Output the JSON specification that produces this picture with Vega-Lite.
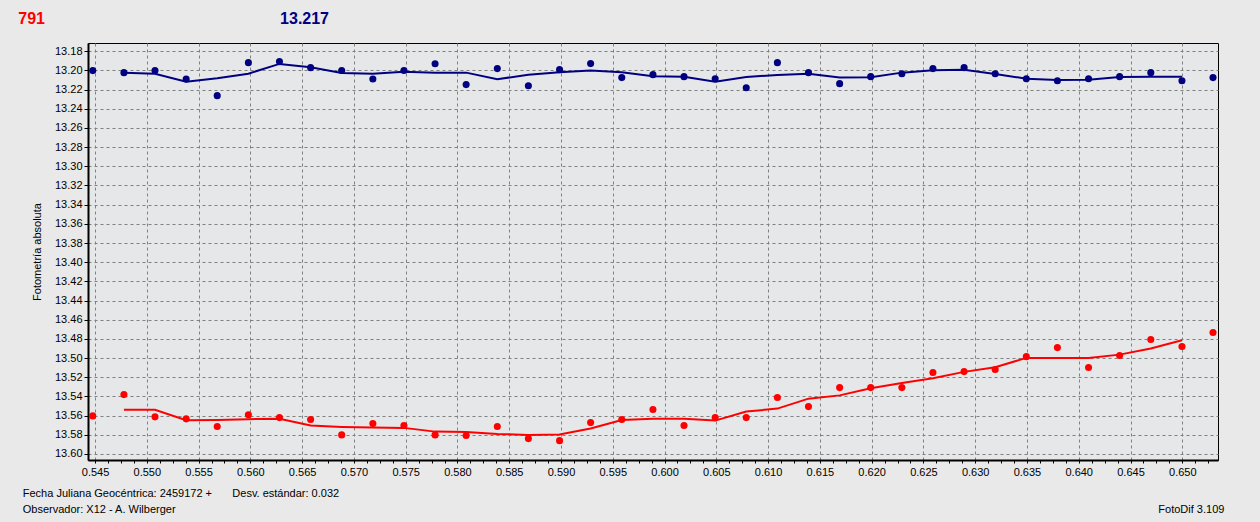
{
  "$schema": "https://vega.github.io/schema/vega-lite/v6.json",
  "width": 1130,
  "height": 417,
  "autosize": {"type": "none"},
  "padding": {"left": 88, "top": 43, "right": 42, "bottom": 62},
  "background": "#e9e9e9",
  "config": {
    "view": {"fill": "#e6e7e9", "stroke": "#000000", "strokeWidth": 1},
    "font": "Liberation Sans",
    "axis": {
      "domainColor": "#000000",
      "domainWidth": 2,
      "tickColor": "#000000",
      "tickSize": 4,
      "labelFont": "Liberation Sans",
      "labelFontSize": 11,
      "labelColor": "#000000",
      "labelPadding": 2,
      "gridColor": "#808080",
      "gridDash": [3, 3],
      "gridWidth": 1,
      "titleFont": "Liberation Sans",
      "titleFontSize": 11,
      "titleFontWeight": "normal",
      "titleColor": "#000000"
    }
  },
  "datasets": {
    "phot": [
      {"series": "comp", "jd": 0.54478, "mag": 13.2002, "fit": null},
      {"series": "comp", "jd": 0.54779, "mag": 13.2023, "fit": 13.2023},
      {"series": "comp", "jd": 0.55079, "mag": 13.2000, "fit": 13.2034},
      {"series": "comp", "jd": 0.55380, "mag": 13.2089, "fit": 13.2117},
      {"series": "comp", "jd": 0.55680, "mag": 13.2263, "fit": 13.2082},
      {"series": "comp", "jd": 0.55981, "mag": 13.1919, "fit": 13.2034},
      {"series": "comp", "jd": 0.56281, "mag": 13.1908, "fit": 13.1932},
      {"series": "comp", "jd": 0.56582, "mag": 13.1971, "fit": 13.1967},
      {"series": "comp", "jd": 0.56882, "mag": 13.2000, "fit": 13.2026},
      {"series": "comp", "jd": 0.57183, "mag": 13.2090, "fit": 13.2034},
      {"series": "comp", "jd": 0.57483, "mag": 13.2000, "fit": 13.2013},
      {"series": "comp", "jd": 0.57784, "mag": 13.1930, "fit": 13.2023},
      {"series": "comp", "jd": 0.58084, "mag": 13.2148, "fit": 13.2023},
      {"series": "comp", "jd": 0.58385, "mag": 13.1981, "fit": 13.2092},
      {"series": "comp", "jd": 0.58685, "mag": 13.2159, "fit": 13.2044},
      {"series": "comp", "jd": 0.58986, "mag": 13.1992, "fit": 13.2019},
      {"series": "comp", "jd": 0.59286, "mag": 13.1929, "fit": 13.2002},
      {"series": "comp", "jd": 0.59587, "mag": 13.2075, "fit": 13.2019},
      {"series": "comp", "jd": 0.59888, "mag": 13.2044, "fit": 13.2061},
      {"series": "comp", "jd": 0.60188, "mag": 13.2065, "fit": 13.2065},
      {"series": "comp", "jd": 0.60489, "mag": 13.2086, "fit": 13.2117},
      {"series": "comp", "jd": 0.60789, "mag": 13.2180, "fit": 13.2068},
      {"series": "comp", "jd": 0.61090, "mag": 13.1919, "fit": 13.2047},
      {"series": "comp", "jd": 0.61390, "mag": 13.2023, "fit": 13.2034},
      {"series": "comp", "jd": 0.61691, "mag": 13.2138, "fit": 13.2075},
      {"series": "comp", "jd": 0.61991, "mag": 13.2065, "fit": 13.2071},
      {"series": "comp", "jd": 0.62292, "mag": 13.2034, "fit": 13.2023},
      {"series": "comp", "jd": 0.62592, "mag": 13.1981, "fit": 13.1998},
      {"series": "comp", "jd": 0.62893, "mag": 13.1971, "fit": 13.1992},
      {"series": "comp", "jd": 0.63193, "mag": 13.2034, "fit": 13.2037},
      {"series": "comp", "jd": 0.63494, "mag": 13.2086, "fit": 13.2086},
      {"series": "comp", "jd": 0.63794, "mag": 13.2107, "fit": 13.2099},
      {"series": "comp", "jd": 0.64095, "mag": 13.2086, "fit": 13.2096},
      {"series": "comp", "jd": 0.64395, "mag": 13.2065, "fit": 13.2068},
      {"series": "comp", "jd": 0.64696, "mag": 13.2023, "fit": 13.2065},
      {"series": "comp", "jd": 0.64997, "mag": 13.2107, "fit": 13.2065},
      {"series": "comp", "jd": 0.65297, "mag": 13.2075, "fit": null},
      {"series": "var", "jd": 0.54478, "mag": 13.5603, "fit": null},
      {"series": "var", "jd": 0.54779, "mag": 13.5381, "fit": 13.5540},
      {"series": "var", "jd": 0.55079, "mag": 13.5613, "fit": 13.5540},
      {"series": "var", "jd": 0.55380, "mag": 13.5634, "fit": 13.5648},
      {"series": "var", "jd": 0.55680, "mag": 13.5714, "fit": 13.5645},
      {"series": "var", "jd": 0.55981, "mag": 13.5592, "fit": 13.5637},
      {"series": "var", "jd": 0.56281, "mag": 13.5621, "fit": 13.5634},
      {"series": "var", "jd": 0.56582, "mag": 13.5641, "fit": 13.5704},
      {"series": "var", "jd": 0.56882, "mag": 13.5801, "fit": 13.5718},
      {"series": "var", "jd": 0.57183, "mag": 13.5683, "fit": 13.5725},
      {"series": "var", "jd": 0.57483, "mag": 13.5704, "fit": 13.5728},
      {"series": "var", "jd": 0.57784, "mag": 13.5801, "fit": 13.5767},
      {"series": "var", "jd": 0.58084, "mag": 13.5808, "fit": 13.5770},
      {"series": "var", "jd": 0.58385, "mag": 13.5714, "fit": 13.5791},
      {"series": "var", "jd": 0.58685, "mag": 13.5840, "fit": 13.5801},
      {"series": "var", "jd": 0.58986, "mag": 13.5861, "fit": 13.5798},
      {"series": "var", "jd": 0.59286, "mag": 13.5673, "fit": 13.5735},
      {"series": "var", "jd": 0.59587, "mag": 13.5641, "fit": 13.5645},
      {"series": "var", "jd": 0.59888, "mag": 13.5537, "fit": 13.5634},
      {"series": "var", "jd": 0.60188, "mag": 13.5704, "fit": 13.5634},
      {"series": "var", "jd": 0.60489, "mag": 13.5621, "fit": 13.5652},
      {"series": "var", "jd": 0.60789, "mag": 13.5621, "fit": 13.5558},
      {"series": "var", "jd": 0.61090, "mag": 13.5412, "fit": 13.5527},
      {"series": "var", "jd": 0.61390, "mag": 13.5506, "fit": 13.5423},
      {"series": "var", "jd": 0.61691, "mag": 13.5308, "fit": 13.5389},
      {"series": "var", "jd": 0.61991, "mag": 13.5308, "fit": 13.5314},
      {"series": "var", "jd": 0.62292, "mag": 13.5308, "fit": 13.5259},
      {"series": "var", "jd": 0.62592, "mag": 13.5151, "fit": 13.5210},
      {"series": "var", "jd": 0.62893, "mag": 13.5141, "fit": 13.5144},
      {"series": "var", "jd": 0.63193, "mag": 13.5120, "fit": 13.5095},
      {"series": "var", "jd": 0.63494, "mag": 13.4985, "fit": 13.4998},
      {"series": "var", "jd": 0.63794, "mag": 13.4891, "fit": 13.4998},
      {"series": "var", "jd": 0.64095, "mag": 13.5099, "fit": 13.4998},
      {"series": "var", "jd": 0.64395, "mag": 13.4974, "fit": 13.4964},
      {"series": "var", "jd": 0.64696, "mag": 13.4807, "fit": 13.4901},
      {"series": "var", "jd": 0.64997, "mag": 13.4880, "fit": 13.4814},
      {"series": "var", "jd": 0.65297, "mag": 13.4734, "fit": null}
    ]
  },
  "layer": [
    {
      "data": {"name": "phot"},
      "mark": {"type": "line", "strokeWidth": 2, "interpolate": "linear"},
      "encoding": {
        "x": {
          "field": "jd",
          "type": "quantitative",
          "scale": {"domain": [0.54432, 0.65345], "nice": false, "zero": false},
          "axis": {
            "title": null,
            "values": [0.545, 0.54625, 0.5475, 0.54875, 0.55, 0.55125, 0.5525, 0.55375, 0.555, 0.55625, 0.5575, 0.55875, 0.56, 0.56125, 0.5625, 0.56375, 0.565, 0.56625, 0.5675, 0.56875, 0.57, 0.57125, 0.5725, 0.57375, 0.575, 0.57625, 0.5775, 0.57875, 0.58, 0.58125, 0.5825, 0.58375, 0.585, 0.58625, 0.5875, 0.58875, 0.59, 0.59125, 0.5925, 0.59375, 0.595, 0.59625, 0.5975, 0.59875, 0.6, 0.60125, 0.6025, 0.60375, 0.605, 0.60625, 0.6075, 0.60875, 0.61, 0.61125, 0.6125, 0.61375, 0.615, 0.61625, 0.6175, 0.61875, 0.62, 0.62125, 0.6225, 0.62375, 0.625, 0.62625, 0.6275, 0.62875, 0.63, 0.63125, 0.6325, 0.63375, 0.635, 0.63625, 0.6375, 0.63875, 0.64, 0.64125, 0.6425, 0.64375, 0.645, 0.64625, 0.6475, 0.64875, 0.65, 0.65125, 0.6525],
            "tickCount": 200,
            "labelExpr": "abs(round(datum.value * 200) - datum.value * 200) < 0.01 ? format(datum.value, '.3f') : ''",
            "gridOpacity": {"condition": {"test": "abs(round(datum.value * 200) - datum.value * 200) < 0.01", "value": 1}, "value": 0},
            "tickSize": 3,
            "labelPadding": 3,
            "labelFlush": false,
            "labelOverlap": false
          }
        },
        "y": {
          "field": "fit",
          "type": "quantitative",
          "scale": {"domain": [13.1714, 13.6063], "nice": false, "zero": false, "reverse": true},
          "axis": {
            "title": "Fotometría absoluta",
            "values": [13.18, 13.2, 13.22, 13.24, 13.26, 13.28, 13.3, 13.32, 13.34, 13.36, 13.38, 13.4, 13.42, 13.44, 13.46, 13.48, 13.5, 13.52, 13.54, 13.56, 13.58, 13.6],
            "tickCount": 100,
            "format": ".2f",
            "titlePadding": 12,
            "labelFlush": false,
            "labelOverlap": false
          }
        },
        "color": {
          "field": "series",
          "type": "nominal",
          "scale": {"domain": ["comp", "var"], "range": ["#000080", "#ff0000"]},
          "legend": null
        },
        "detail": {"field": "series"}
      }
    },
    {
      "data": {"name": "phot"},
      "mark": {"type": "point", "filled": true, "shape": "circle", "size": 50, "opacity": 1},
      "encoding": {
        "x": {"field": "jd", "type": "quantitative"},
        "y": {"field": "mag", "type": "quantitative"},
        "color": {"field": "series", "type": "nominal", "legend": null}
      }
    },
    {
      "data": {"values": [{"label": "791"}]},
      "mark": {"type": "text", "align": "left", "baseline": "middle", "fontSize": 16, "fontWeight": "bold", "color": "#ff0000", "font": "Liberation Sans"},
      "encoding": {
        "x": {"datum": 0.53759, "type": "quantitative"},
        "y": {"datum": 13.14668, "type": "quantitative"},
        "text": {"field": "label"}
      }
    },
    {
      "data": {"values": [{"label": "13.217"}]},
      "mark": {"type": "text", "align": "left", "baseline": "middle", "fontSize": 16, "fontWeight": "bold", "color": "#000080", "font": "Liberation Sans"},
      "encoding": {
        "x": {"datum": 0.56287, "type": "quantitative"},
        "y": {"datum": 13.14668, "type": "quantitative"},
        "text": {"field": "label"}
      }
    },
    {
      "data": {"values": [{"label": "Fecha Juliana Geocéntrica: 2459172 +"}]},
      "mark": {"type": "text", "align": "left", "baseline": "middle", "fontSize": 11, "color": "#000000", "font": "Liberation Sans"},
      "encoding": {
        "x": {"datum": 0.53802, "type": "quantitative"},
        "y": {"datum": 13.64176, "type": "quantitative"},
        "text": {"field": "label"}
      }
    },
    {
      "data": {"values": [{"label": "Desv. estándar: 0.032"}]},
      "mark": {"type": "text", "align": "left", "baseline": "middle", "fontSize": 11, "color": "#000000", "font": "Liberation Sans"},
      "encoding": {
        "x": {"datum": 0.55826, "type": "quantitative"},
        "y": {"datum": 13.64176, "type": "quantitative"},
        "text": {"field": "label"}
      }
    },
    {
      "data": {"values": [{"label": "Observador: X12 - A. Wilberger"}]},
      "mark": {"type": "text", "align": "left", "baseline": "middle", "fontSize": 11, "color": "#000000", "font": "Liberation Sans"},
      "encoding": {
        "x": {"datum": 0.53802, "type": "quantitative"},
        "y": {"datum": 13.65845, "type": "quantitative"},
        "text": {"field": "label"}
      }
    },
    {
      "data": {"values": [{"label": "FotoDif 3.109"}]},
      "mark": {"type": "text", "align": "left", "baseline": "middle", "fontSize": 11, "color": "#000000", "font": "Liberation Sans"},
      "encoding": {
        "x": {"datum": 0.64769, "type": "quantitative"},
        "y": {"datum": 13.65845, "type": "quantitative"},
        "text": {"field": "label"}
      }
    }
  ]
}
